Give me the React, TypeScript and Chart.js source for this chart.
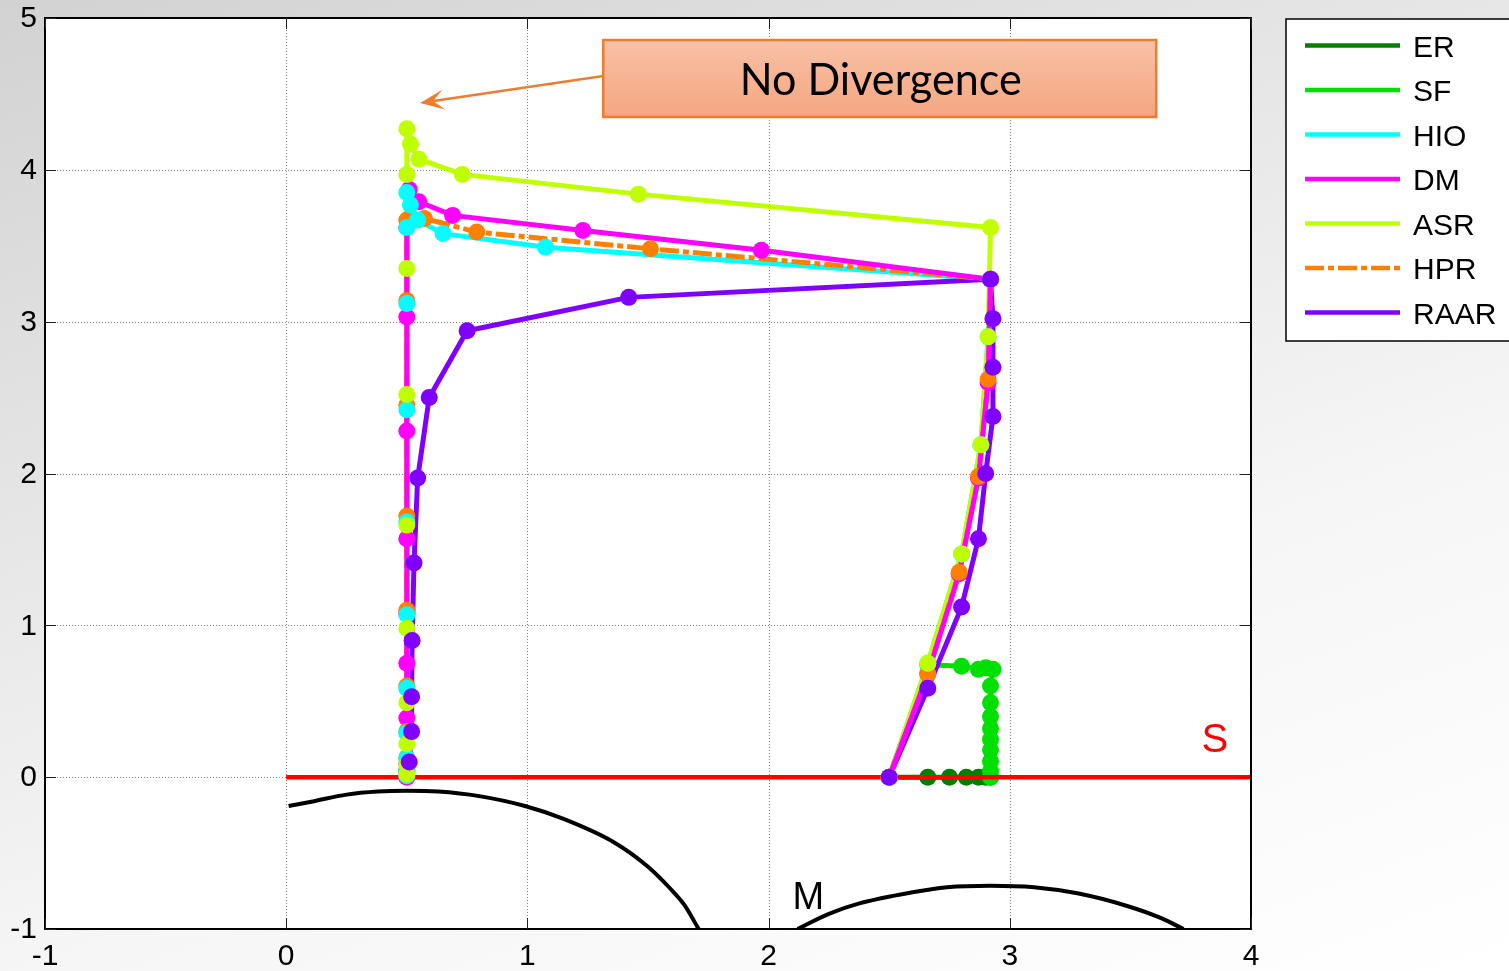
import React, { useEffect, useRef } from 'react';
import { Chart, registerables } from 'chart.js';

Chart.register(...registerables);

// Axis ticks
const xTicks = [-1, 0, 1, 2, 3, 4];
const yTicks = [-1, 0, 1, 2, 3, 4, 5];

// Algorithm names and colours
const seriesNames = ['ER', 'SF', 'HIO', 'DM', 'ASR', 'HPR', 'RAAR'];
const seriesColors = ['#007f00', '#00e000', '#00ffff', '#ff00ff', '#bfff00', '#ff8000', '#8000ff'];

// Iterate trajectories (x, y)
const erX = [2.5, 2.66, 2.75, 2.82, 2.87, 2.9, 2.92];
const erY = [0, 0, 0, 0, 0, 0, 0];

const sfX = [2.5, 2.66, 2.8, 2.87, 2.9, 2.93, 2.92, 2.92, 2.92, 2.92, 2.92, 2.92, 2.92, 2.92, 2.92];
const sfY = [0, 0.74, 0.73, 0.71, 0.72, 0.71, 0.6, 0.49, 0.4, 0.32, 0.25, 0.18, 0.105, 0.04, 0.0];

const hioX = [2.5, 2.66, 2.8, 2.88, 2.91, 2.92, 1.075, 0.65, 0.545, 0.515, 0.5, 0.5, 0.5, 0.5, 0.5, 0.5, 0.5, 0.5, 0.5, 0.5, 0.5];
const hioY = [0, 0.75, 1.47, 2.19, 2.9, 3.28, 3.49, 3.58, 3.67, 3.77, 3.85, 3.62, 3.12, 2.42, 1.68, 1.07, 0.585, 0.29, 0.125, 0.05, 0.01];

const dmX = [2.5, 2.66, 2.79, 2.87, 2.91, 2.92, 1.97, 1.23, 0.69, 0.55, 0.51, 0.5, 0.5, 0.5, 0.5, 0.5, 0.5, 0.5, 0.5, 0.5, 0.5];
const dmY = [0, 0.68, 1.34, 1.97, 2.6, 3.28, 3.47, 3.6, 3.7, 3.79, 3.87, 3.62, 3.03, 2.28, 1.57, 1.08, 0.75, 0.39, 0.09, 0.04, 0];

const asrX = [2.5, 2.66, 2.8, 2.88, 2.91, 2.92, 1.46, 0.73, 0.55, 0.515, 0.5, 0.5, 0.5, 0.5, 0.5, 0.5, 0.5, 0.5, 0.5, 0.5];
const asrY = [0, 0.75, 1.47, 2.19, 2.9, 3.62, 3.84, 3.97, 4.07, 4.17, 4.27, 3.97, 3.35, 2.52, 1.66, 0.98, 0.49, 0.22, 0.08, 0.02];

const hprX = [2.5, 2.66, 2.79, 2.87, 2.91, 2.92, 1.51, 0.79, 0.573, 0.5, 0.5, 0.5, 0.5, 0.5, 0.5, 0.5, 0.5, 0.5];
const hprY = [0, 0.68, 1.35, 1.98, 2.62, 3.28, 3.48, 3.59, 3.68, 3.67, 3.14, 2.45, 1.72, 1.1, 0.6, 0.3, 0.13, 0.04];

const raarX = [2.5, 2.66, 2.8, 2.87, 2.9, 2.93, 2.93, 2.93, 2.92, 1.42, 0.75, 0.593, 0.545, 0.53, 0.522, 0.52, 0.52, 0.51];
const raarY = [0, 0.585, 1.12, 1.57, 2.0, 2.375, 2.7, 3.02, 3.28, 3.16, 2.94, 2.5, 1.97, 1.41, 0.9, 0.53, 0.3, 0.1];

// Constraint set S (the line y = 0) and the two arcs of set M
const sX = [0, 4];
const sY = [0, 0];

const mLeftX = [0.01, 0.11, 0.25, 0.38, 0.5, 0.63, 0.8, 0.99, 1.15, 1.36, 1.5, 1.59, 1.65, 1.71];
const mLeftY = [-0.19, -0.16, -0.115, -0.095, -0.09, -0.095, -0.125, -0.19, -0.275, -0.43, -0.59, -0.73, -0.84, -1.0];

const mRightX = [2.12, 2.25, 2.38, 2.59, 2.74, 2.92, 3.1, 3.28, 3.49, 3.63, 3.72];
const mRightY = [-1.0, -0.9, -0.83, -0.76, -0.725, -0.715, -0.725, -0.765, -0.85, -0.93, -1.0];

const annotationText = 'No Divergence';

const pts = (xs: number[], ys: number[]) => xs.map((x, i) => ({ x, y: ys[i] }));

const trajectories = [
  { x: erX, y: erY },
  { x: sfX, y: sfY },
  { x: hioX, y: hioY },
  { x: dmX, y: dmY },
  { x: asrX, y: asrY },
  { x: hprX, y: hprY },
  { x: raarX, y: raarY },
];

// drawing order: smaller number is painted later (on top)
const lineOrder = [95, 94, 60, 56, 59, 57, 58];
const markerOrder = [93, 92, 37, 39, 36, 38, 30];
const hprDash = [19, 4, 6, 4];

const TICK_FONT = '30px "Liberation Sans", Arial, sans-serif';

const decorPlugin = {
  id: 'decor',
  beforeDraw(chart: any) {
    const { ctx, chartArea: a } = chart;
    ctx.save();
    ctx.fillStyle = '#ffffff';
    ctx.fillRect(a.left, a.top, a.right - a.left, a.bottom - a.top);
    ctx.restore();
  },
  beforeDatasetsDraw(chart: any) {
    const { ctx, chartArea: a, scales } = chart;
    const xs = scales.x;
    const ys = scales.y;
    ctx.save();
    ctx.strokeStyle = '#808080';
    ctx.lineWidth = 1;
    ctx.setLineDash([1, 2]);
    xTicks.slice(1, -1).forEach((v) => {
      const px = Math.round(xs.getPixelForValue(v)) + 0.5;
      ctx.beginPath();
      ctx.moveTo(px, a.top);
      ctx.lineTo(px, a.bottom);
      ctx.stroke();
    });
    yTicks.slice(1, -1).forEach((v) => {
      const py = Math.round(ys.getPixelForValue(v)) + 0.5;
      ctx.beginPath();
      ctx.moveTo(a.left, py);
      ctx.lineTo(a.right, py);
      ctx.stroke();
    });
    ctx.restore();
  },
  afterDatasetsDraw(chart: any) {
    const { ctx, chartArea: a, scales } = chart;
    const xs = scales.x;
    const ys = scales.y;
    ctx.save();

    // axes box
    ctx.strokeStyle = '#000';
    ctx.lineWidth = 2;
    ctx.setLineDash([]);
    ctx.strokeRect(a.left, a.top, a.right - a.left, a.bottom - a.top);

    // inward tick marks
    ctx.lineWidth = 1;
    ctx.strokeStyle = '#222';
    const tl = 11;
    xTicks.forEach((v) => {
      const px = Math.round(xs.getPixelForValue(v)) + 0.5;
      ctx.beginPath();
      ctx.moveTo(px, a.bottom);
      ctx.lineTo(px, a.bottom - tl);
      ctx.moveTo(px, a.top);
      ctx.lineTo(px, a.top + tl);
      ctx.stroke();
    });
    yTicks.forEach((v) => {
      const py = Math.round(ys.getPixelForValue(v)) + 0.5;
      ctx.beginPath();
      ctx.moveTo(a.left, py);
      ctx.lineTo(a.left + tl, py);
      ctx.moveTo(a.right, py);
      ctx.lineTo(a.right - tl, py);
      ctx.stroke();
    });

    // tick labels
    ctx.fillStyle = '#000';
    ctx.font = TICK_FONT;
    ctx.textAlign = 'right';
    ctx.textBaseline = 'middle';
    yTicks.forEach((v) => {
      ctx.fillText(String(v), a.left - 8, ys.getPixelForValue(v) + 1);
    });
    ctx.textAlign = 'center';
    ctx.textBaseline = 'middle';
    xTicks.forEach((v) => {
      ctx.fillText(String(v), xs.getPixelForValue(v), a.bottom + 28);
    });

    // set labels
    ctx.font = '40px "Liberation Sans", Arial, sans-serif';
    ctx.fillStyle = '#ff0000';
    ctx.fillText('S', xs.getPixelForValue(3.85), ys.getPixelForValue(0.24));
    ctx.font = '38px "Liberation Sans", Arial, sans-serif';
    ctx.fillStyle = '#000';
    ctx.fillText('M', xs.getPixelForValue(2.165), ys.getPixelForValue(-0.8));

    // callout box
    const bx0 = xs.getPixelForValue(1.3145);
    const bx1 = xs.getPixelForValue(3.607);
    const by0 = ys.getPixelForValue(4.855);
    const by1 = ys.getPixelForValue(4.348);
    const grad = ctx.createLinearGradient(0, by0, 0, by1);
    grad.addColorStop(0, '#f8c1a7');
    grad.addColorStop(1, '#f4a680');
    ctx.fillStyle = grad;
    ctx.fillRect(bx0, by0, bx1 - bx0, by1 - by0);
    ctx.strokeStyle = '#ed7d31';
    ctx.lineWidth = 2.5;
    ctx.strokeRect(bx0, by0, bx1 - bx0, by1 - by0);

    // narrow, tall lettering for the callout
    const fs = 45;
    ctx.font = `${fs}px Lato, "Open Sans", sans-serif`;
    const w = ctx.measureText(annotationText).width;
    const sxScale = 282 / w;
    ctx.save();
    ctx.translate((bx0 + bx1) / 2 + 1, (by0 + by1) / 2 + 2);
    ctx.scale(sxScale, 1);
    ctx.fillStyle = '#000';
    ctx.textAlign = 'center';
    ctx.textBaseline = 'middle';
    ctx.fillText(annotationText, 0, 0);
    ctx.restore();

    // callout arrow
    const tx = xs.getPixelForValue(0.555);
    const ty = ys.getPixelForValue(4.44);
    const sx = bx0;
    const sy = ys.getPixelForValue(4.618);
    const ang = Math.atan2(ty - sy, tx - sx);
    const hl = 24;
    const hw = 10;
    ctx.strokeStyle = '#ed7d31';
    ctx.fillStyle = '#ed7d31';
    ctx.lineWidth = 2.5;
    ctx.beginPath();
    ctx.moveTo(sx, sy);
    ctx.lineTo(tx - Math.cos(ang) * 10, ty - Math.sin(ang) * 10);
    ctx.stroke();
    const ca = Math.cos(ang);
    const sa = Math.sin(ang);
    ctx.beginPath();
    ctx.moveTo(tx, ty);
    ctx.lineTo(tx - ca * hl - sa * hw, ty - sa * hl + ca * hw);
    ctx.lineTo(tx - ca * hl * 0.55, ty - sa * hl * 0.55);
    ctx.lineTo(tx - ca * hl + sa * hw, ty - sa * hl - ca * hw);
    ctx.closePath();
    ctx.fill();

    // legend
    const lx = a.right + 35;
    const ly0 = 19;
    const ly1 = 341;
    ctx.fillStyle = '#fff';
    ctx.fillRect(lx, ly0, 260, ly1 - ly0);
    ctx.strokeStyle = '#000';
    ctx.lineWidth = 1.5;
    ctx.strokeRect(lx, ly0, 260, ly1 - ly0);
    ctx.font = TICK_FONT;
    ctx.textAlign = 'left';
    ctx.textBaseline = 'middle';
    seriesNames.forEach((name, i) => {
      const yy = 45.5 + i * 44.5;
      ctx.strokeStyle = seriesColors[i];
      ctx.lineWidth = 4.5;
      ctx.lineCap = 'butt';
      ctx.setLineDash(name === 'HPR' ? hprDash : []);
      ctx.beginPath();
      ctx.moveTo(lx + 19, yy);
      ctx.lineTo(lx + 114, yy);
      ctx.stroke();
      ctx.setLineDash([]);
      ctx.fillStyle = '#000';
      ctx.fillText(name, lx + 127, yy + 3);
    });
    ctx.restore();
  },
};

export default function App() {
  const canvasRef = useRef<HTMLCanvasElement | null>(null);

  useEffect(() => {
    const canvas = canvasRef.current;
    if (!canvas) return;

    const datasets: any[] = [];
    trajectories.forEach((t, i) => {
      const data = pts(t.x, t.y);
      const dashed = seriesNames[i] === 'HPR';
      datasets.push({
        label: seriesNames[i],
        data,
        borderColor: seriesColors[i],
        backgroundColor: seriesColors[i],
        borderWidth: 5,
        borderDash: dashed ? hprDash : [],
        borderJoinStyle: dashed ? 'miter' : 'round',
        borderCapStyle: dashed ? 'butt' : 'round',
        pointRadius: 0,
        tension: 0,
        fill: false,
        order: lineOrder[i],
      });
      datasets.push({
        label: seriesNames[i] + ' iterates',
        data,
        showLine: false,
        pointRadius: 8.5,
        pointBorderWidth: 0,
        pointBackgroundColor: seriesColors[i],
        pointBorderColor: seriesColors[i],
        order: markerOrder[i],
      });
    });
    datasets.push({
      label: 'S',
      data: pts(sX, sY),
      borderColor: '#ff0000',
      borderWidth: 4.5,
      pointRadius: 0,
      order: 90,
    });
    datasets.push({
      label: 'M left',
      data: pts(mLeftX, mLeftY),
      borderColor: '#000000',
      borderWidth: 4,
      pointRadius: 0,
      cubicInterpolationMode: 'monotone',
      order: 100,
    });
    datasets.push({
      label: 'M right',
      data: pts(mRightX, mRightY),
      borderColor: '#000000',
      borderWidth: 4,
      pointRadius: 0,
      cubicInterpolationMode: 'monotone',
      order: 100,
    });

    const chart = new Chart(canvas, {
      type: 'line',
      data: { datasets },
      options: {
        responsive: false,
        animation: false,
        events: [],
        layout: { padding: { left: 45, top: 18, right: 258, bottom: 42 } },
        scales: {
          x: { type: 'linear', min: -1, max: 4, display: false },
          y: { type: 'linear', min: -1, max: 5, display: false },
        },
        plugins: {
          legend: { display: false },
          tooltip: { enabled: false },
        },
      },
      plugins: [decorPlugin],
    });
    return () => chart.destroy();
  }, []);

  return (
    <div
      style={{
        position: 'fixed',
        left: 0,
        top: 0,
        width: 1509,
        height: 971,
        overflow: 'hidden',
        background: 'linear-gradient(160deg, #d2d2d2 0%, #e6e6e6 35%, #f6f6f6 65%, #ffffff 100%)',
      }}
    >
      <canvas ref={canvasRef} width={1509} height={971} style={{ display: 'block', width: 1509, height: 971 }} />
    </div>
  );
}
